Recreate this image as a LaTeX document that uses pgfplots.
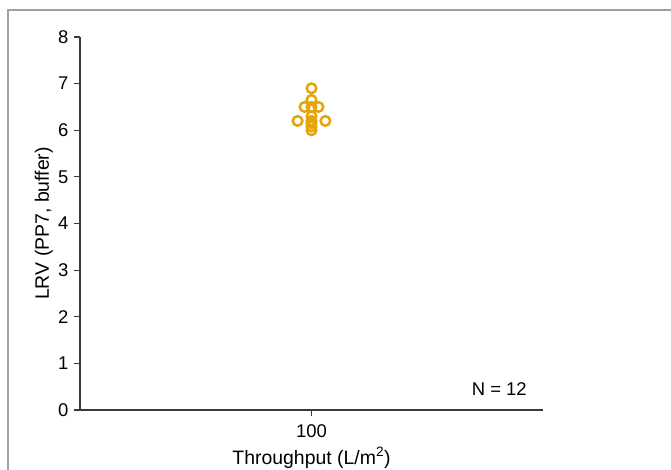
\documentclass[border=0pt]{standalone}
\usepackage{pgfplots}
\pgfplotsset{compat=1.18}
\usepackage{fontspec}
\setmainfont{Liberation Sans}
\definecolor{dotc}{HTML}{E4A50C}
\definecolor{axc}{HTML}{3A3A3A}
\definecolor{framec}{HTML}{A0A0A0}
\begin{document}
\begin{tikzpicture}[x=1bp,y=1bp]
\useasboundingbox (0,0) rectangle (671,470);
\draw[framec, line width=1.2bp] (8,0) -- (8,460) -- (671,460);
\begin{axis}[
  at={(80bp,60bp)}, anchor=south west,
  scale only axis, width=463bp, height=373bp,
  xmin=0, xmax=200, ymin=0, ymax=8,
  axis lines=left,
  axis line style={axc, line width=1.3bp, -},
  tick style={axc, line width=1.1bp},
  tick align=outside,
  major tick length=6bp,
  xtick={100}, ytick={0,1,...,8},
  /pgf/number format/assume math mode=true,
  tick label style={font=\fontsize{18.5}{21}\selectfont, text=black},
  yticklabel style={xshift=-2bp},
  xticklabel style={yshift=-5bp},
  xlabel={Throughput (L/m\textsuperscript{2})},
  ylabel={LRV (PP7, buffer)},
  label style={font=\fontsize{19.5}{23}\selectfont},
  xlabel style={yshift=-3bp},
  ylabel style={at={(axis description cs:-0.078,0.5)}, anchor=center},
  clip=false,
]
\addplot[only marks, mark=o, mark size=4.8bp, mark options={dotc, line width=2.5bp}]
coordinates {
(100,6.9) (100,6.65) (97,6.5) (100,6.5) (103,6.5)
(94,6.2) (106,6.2)
(100,6.3) (100,6.2) (100,6.15) (100,6.08) (100,6.0)
};
\node[anchor=east, font=\fontsize{18.5}{22}\selectfont] at (axis cs:194.5,0.44) {N = 12};
\end{axis}
\end{tikzpicture}
\end{document}
